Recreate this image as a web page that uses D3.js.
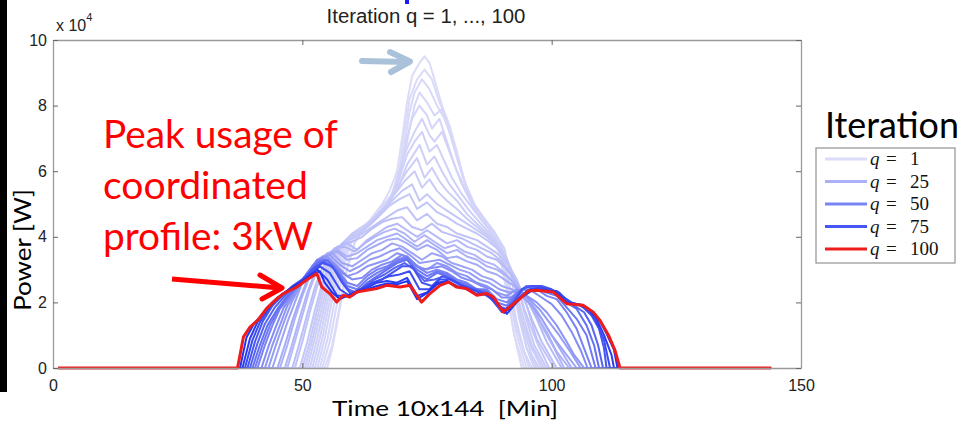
<!DOCTYPE html>
<html>
<head>
<meta charset="utf-8">
<script src="https://cdn.jsdelivr.net/npm/d3@7"></script>
<style>
  body { margin: 0; background: #fff; overflow: hidden; }
  svg { display: block; }
</style>
</head>
<body>
<svg id="chart" width="961" height="426"></svg>
<script>
// tick values (power is shown in units of 10^4 W)
const xTicks = [0, 50, 100, 150];
const yTicks = [0, 2, 4, 6, 8, 10];

// iteration number of each drawn profile
const iterations = [1, 2, 3, 4, 5, 6, 7, 8, 9, 10, 12, 13, 15, 17, 20, 22, 25, 28, 32, 36, 40, 45, 50, 55, 60, 67, 75, 80, 88, 94, 100];

// power profiles [time step, W]
const q1 = [[1,0],[55,0],[56,6000],[57.5,18000],[59,30000],[60.5,38000],[62,42000],[64,46000],[66,50000],[67.5,54000],[69,60000],[70,70000],[71,81000],[72,89000],[73.5,93000],[74.5,95000],[75.5,93000],[76.5,88000],[78,80000],[79.5,74000],[81,66000],[82.5,57000],[84,50000],[86,45000],[88,42000],[89.5,36000],[91,24000],[92.5,10000],[94,0],[144,0]];
const q2 = [[1,0],[54.5,0],[56,7000],[57.5,19000],[59,31000],[60.5,38500],[62,42500],[64,45500],[66,49500],[68,53000],[69.5,61000],[70.5,72000],[71.5,82000],[73,88000],[74.5,91000],[76,88000],[77.5,81000],[79,76000],[80.5,68000],[82,59000],[83.5,52000],[85.5,46000],[87.5,42500],[89.5,35000],[91,23000],[92.5,10000],[94.5,0],[144,0]];
const q3 = [[1,0],[54,0],[55.5,8000],[57,20000],[58.5,32000],[60,39000],[62,43000],[64,45000],[66,49000],[68,52000],[69.5,58000],[70.5,68000],[71.5,78000],[72.5,84000],[74,88000],[75.5,85000],[77,80000],[78.5,76000],[80,70000],[81.5,62000],[83,55000],[84.5,49000],[86.5,45000],[88.5,41000],[90,34000],[91.5,22000],[93,10000],[95,0],[144,0]];
const q4 = [[1,0],[53.5,0],[55,8500],[56.5,20500],[58,31500],[59.5,38500],[61.5,42500],[63.5,44500],[65.5,48000],[67.5,51000],[69,56000],[70.5,65000],[71.5,73000],[72.5,80000],[73.5,84000],[75,81000],[76.5,77000],[78,79000],[79.5,72000],[81,64000],[82.5,57000],[84.5,50000],[86.5,45500],[88.5,41500],[90,35000],[91.5,24000],[93,12000],[95.5,0],[144,0]];
const q5 = [[1,0],[53,0],[54.5,9000],[56,21000],[57.5,31000],[59,38000],[61,42000],[63,44000],[65,47000],[67,50000],[68.5,55000],[70,63000],[71,70000],[72,76000],[73.5,80000],[75,77000],[76,73000],[77.5,76000],[79,69000],[80.5,62000],[82,56000],[84,50000],[86,46000],[88,42000],[90,36000],[91.5,26000],[93,14000],[94.5,5000],[96,0],[144,0]];
const q6 = [[1,0],[52.5,0],[54,9000],[55.5,20500],[57,30500],[58.5,37500],[60.5,41500],[62.5,43500],[64.5,46000],[66.5,49000],[68,53000],[69.5,60000],[71,67000],[72.5,72000],[74,76000],[75.5,71000],[76.5,69000],[78,72000],[79.5,66000],[81,60000],[82.5,55000],[84.5,49500],[86.5,45500],[88.5,41500],[90.5,36500],[92,27000],[93.5,15000],[95,6000],[96.5,0],[144,0]];
const q7 = [[1,0],[52,0],[53.5,9000],[55,20000],[56.5,30000],[58,37000],[60,41000],[62,43000],[64,45000],[66,48000],[68,52000],[69.5,58000],[71,65000],[72.5,69000],[74,72000],[75.5,66000],[77,68000],[78.5,63000],[80,58000],[82,53000],[84,49000],[86,45000],[88,41000],[90,37000],[92,28000],[93.5,16000],[95,6000],[97,0],[144,0]];
const q8 = [[1,0],[51.5,0],[53,9000],[54.5,19500],[56,29000],[57.5,36000],[59.5,40000],[61.5,42500],[63.5,44000],[65.5,47000],[67.5,51000],[69.5,56000],[71,62000],[73.5,68000],[75,62000],[76.5,64500],[78,60000],[79.5,56000],[81.5,52000],[83.5,48000],[85.5,44500],[87.5,41000],[89.5,37500],[91.5,30000],[93,20000],[94.5,11000],[96,4000],[97.5,0],[144,0]];
const q9 = [[1,0],[51,0],[52.5,9000],[54,19000],[55.5,28000],[57,35000],[59,39000],[61,42000],[63,43000],[65,46000],[67,50000],[69,55000],[71,60000],[73,64000],[74.5,58000],[76,61000],[77.5,57000],[79,54000],[81,51000],[83,47000],[85,44000],[87,41000],[89,38000],[91,33000],[92.5,25000],[94,15000],[96,6000],[98,0],[144,0]];
const q10 = [[1,0],[50.5,0],[52,8500],[53.5,18500],[55,27500],[56.5,34000],[58.5,38500],[60.5,41500],[62.5,42500],[64.5,45500],[66.5,49000],[68.5,53000],[70.5,57000],[72.5,60000],[74,55000],[75.5,57500],[77,54000],[79,51000],[81,48500],[83,45500],[85,43000],[87,40500],[89,37500],[91,33500],[92.5,26000],[94,17000],[96,7000],[98.5,0],[144,0]];
const q12 = [[1,0],[50,0],[51.5,8000],[53,18000],[54.5,27000],[56,33000],[58,38000],[60,41000],[62,42000],[64,45000],[66,48000],[68,51000],[70,54000],[72,56000],[73.5,51000],[75,53000],[77,50000],[79,48000],[81,46000],[83,44000],[85,42000],[87,40000],[89,37000],[91,33000],[93,26000],[94.5,17000],[96.5,7000],[99,0],[144,0]];
const q13 = [[1,0],[49.5,0],[51,8000],[52.5,17500],[54,26000],[55.5,32500],[57.5,37000],[59.5,40000],[61.5,41000],[63.5,43500],[65.5,46500],[67.5,49500],[69.5,51500],[71.5,53000],[73,48500],[75,50500],[77,47500],[79,46000],[81,44000],[83,42500],[85,41000],[87,39000],[89,36500],[91,33000],[93,26500],[94.5,18000],[97,8000],[99.5,0],[144,0]];
const q15 = [[1,0],[48.5,0],[50,8000],[51.5,17000],[53,25000],[55,32000],[57,36000],[59,39000],[61,40000],[63,42000],[65,44000],[67,46000],[69,48000],[71,49000],[73,45000],[75,47000],[77,44000],[79,43000],[81,41000],[83,40000],[85,39000],[87,37000],[89,35000],[91,32000],[93,27000],[95,19000],[97,9000],[100.5,0],[144,0]];
const q17 = [[1,0],[48,0],[49.5,8000],[51,16500],[52.5,24500],[54,30500],[56,35000],[58,38000],[60,38500],[62,40000],[64,42500],[66,44500],[68,45500],[70,46000],[72,43000],[74,42000],[76,44000],[78,41500],[80,40500],[82,39500],[84,38000],[86,36500],[88,35000],[90,32500],[92,28500],[94,23000],[96,15000],[98,8000],[101,0],[144,0]];
const q20 = [[1,0],[47,0],[48.5,8000],[50,16000],[51.5,24000],[53,30000],[55,34000],[57,37000],[59,38000],[61,36000],[63,39000],[65,41000],[67,43000],[69,44000],[71,42000],[73,40000],[75,42000],[77,40000],[79,38000],[81,39000],[83,37000],[85,36000],[87,34000],[89,33000],[91,30000],[93,26000],[95,21000],[97,15000],[99,8000],[102,0],[144,0]];
const q22 = [[1,0],[46.5,0],[48,7500],[49.5,15500],[51,23000],[52.5,29000],[54.5,33500],[56.5,36500],[58.5,37000],[60.5,35500],[62.5,38000],[64.5,40000],[66.5,41500],[68.5,42500],[70.5,41000],[72.5,38500],[74.5,40500],[76.5,38500],[78.5,36500],[80.5,37500],[82.5,35500],[84.5,34500],[86.5,32500],[88.5,31500],[90.5,29000],[92.5,26000],[94.5,22000],[96.5,17500],[98.5,11500],[100.5,6000],[102.5,0],[144,0]];
const q25 = [[1,0],[45.5,0],[47,7000],[48.5,15000],[50,22000],[51.5,28000],[53,32000],[55,35000],[57,36000],[59,34000],[61,35000],[63,37000],[65,39000],[67,40000],[69,41000],[71,39000],[73,37000],[75,39000],[77,37000],[79,35000],[81,36000],[83,34000],[85,33000],[87,31000],[89,30000],[91,28000],[93,25000],[95,21000],[97,16000],[99,11000],[101,5000],[103.5,0],[144,0]];
const q28 = [[1,0],[45,0],[46.5,7000],[48,14500],[49.5,21000],[51,27000],[53,31500],[55,34500],[57,35500],[59,33000],[61,33500],[63,36000],[65,37500],[67,39000],[69,39500],[71,38000],[73,36000],[75,37500],[77,36000],[79,33500],[81,34000],[83,32500],[85,31500],[87,29500],[89,28500],[91,26500],[93,24500],[95,21500],[97,17500],[99,12500],[101,7500],[104,0],[144,0]];
const q32 = [[1,0],[44,0],[45.5,7000],[47,14000],[48.5,20000],[50,26000],[52,31000],[54,34000],[56,35000],[58,32000],[60,31000],[62,33000],[64,35000],[66,36000],[68,38000],[70,37000],[72,35000],[74,33000],[76,35000],[78,34000],[80,32000],[82,31000],[84,30000],[86,28000],[88,27000],[90,25000],[92,24000],[94,22000],[96,19000],[98,15000],[100,10000],[102.5,5000],[105,0],[144,0]];
const q36 = [[1,0],[43.2,0],[44.7,7000],[46.2,13500],[47.7,19500],[49.5,25000],[51.5,30000],[53.5,33500],[55.5,34500],[57.5,31500],[59.5,29500],[61.5,31000],[63.5,33000],[65.5,34000],[67.5,35500],[69.5,36500],[71.5,34500],[73.5,32000],[75.5,32500],[77.5,33000],[79.5,31500],[81.5,30000],[83.5,29000],[85.5,27000],[87.5,26000],[89.5,24000],[91.5,23000],[93.5,23500],[95.5,21000],[97.5,18000],[99.5,14000],[101.5,10000],[103.5,5500],[105.8,0],[144,0]];
const q40 = [[1,0],[42.5,0],[44,7000],[45.5,13000],[47,19000],[49,24000],[51,29000],[53,33000],[55,34000],[57,31000],[59,28000],[61,29000],[63,31000],[65,32000],[67,33000],[69,35000],[71,34000],[73,31000],[75,30000],[77,32000],[79,31000],[81,29000],[83,28000],[85,26000],[87,25000],[89,23000],[91,22000],[93,24000],[95,22000],[97,20000],[99,17000],[101,13000],[103,8000],[104.5,4000],[106.5,0],[144,0]];
const q45 = [[1,0],[41.8,0],[43.3,7000],[44.8,13000],[46.3,18500],[48.3,23000],[50.3,27500],[52.3,31500],[54,33500],[56,32000],[58,29000],[60,27000],[62,27500],[64,30000],[66,31500],[68,32500],[70,34500],[72,32500],[74,30000],[76,30500],[78,31000],[80,29500],[82,27500],[84,26500],[86,25000],[88,24000],[90,21500],[92,21500],[94,24000],[96,23500],[98,21500],[100,19500],[102,16000],[104,11000],[105.8,5500],[107.2,0],[144,0]];
const q50 = [[1,0],[41,0],[42.5,7000],[44,13000],[45.5,18000],[47.5,22000],[49.5,26000],[51.5,30000],[53,33000],[55,33000],[57,30000],[59,26000],[61,25000],[63,28000],[65,30000],[67,31000],[69,33000],[71,34000],[73,31000],[75,29000],[77,30000],[79,29000],[81,27000],[83,26000],[85,24000],[87,24000],[89,21000],[91,20000],[93,23000],[95,25000],[97,24000],[99,22000],[101,21000],[103,17000],[105,12000],[106.5,6000],[108,0],[144,0]];
const q55 = [[1,0],[40.5,0],[42,7000],[43.5,13000],[45.3,18000],[47.3,22000],[49.3,25500],[51.3,29000],[53,32500],[55,33000],[57,29500],[59,25000],[61,24000],[63,27000],[65,29000],[67,30500],[69,32500],[71,33500],[73,30000],[75,28000],[77,29500],[79,28500],[81,26500],[83,25500],[85,24000],[87,23500],[89,20000],[91,19000],[93,22500],[95,25000],[97,24500],[99,23000],[101,22000],[103,18500],[105,15000],[107,10000],[108.8,0],[144,0]];
const q60 = [[1,0],[40,0],[41.5,7000],[43,13000],[45,18000],[47,22000],[49,25000],[51,28000],[53,32000],[55,33000],[57,29000],[59,24000],[61,23000],[63,26000],[65,28000],[67,30000],[69,32000],[71,33000],[73,29000],[75,27000],[77,29000],[79,28000],[81,26000],[83,25000],[85,24000],[87,23000],[89,19000],[91,18000],[93,22000],[95,25000],[97,25000],[99,24000],[101,23000],[103,20000],[105,18000],[107,13000],[108.5,7000],[109.5,0],[144,0]];
const q67 = [[1,0],[39.5,0],[41,7500],[42.5,13500],[44.5,18500],[46.5,22000],[48.5,25000],[50.5,27500],[52.5,31000],[54.5,32500],[56.5,30000],[58.5,25000],[60.5,22500],[62.5,25000],[64.5,27000],[66.5,28500],[68.5,30500],[70.5,32000],[72.5,30000],[74.5,26500],[76.5,27000],[78.5,28000],[80.5,26500],[82.5,25000],[84.5,24000],[86.5,23000],[88.5,20000],[90.5,17500],[92.5,20500],[94.5,24500],[96.5,25000],[98.5,24500],[100.5,23500],[102.5,21000],[104.5,19000],[106.5,17000],[108,13000],[109.3,7000],[110.3,0],[144,0]];
const q75 = [[1,0],[39,0],[40.5,8000],[42,14000],[44,19000],[46,22000],[48,25000],[50,27000],[52,30000],[54,32000],[56,31000],[58,26000],[60,22000],[62,24000],[64,26000],[66,27000],[68,29000],[70,31000],[72,31000],[74,26000],[76,25000],[78,28000],[80,27000],[82,25000],[84,24000],[86,23000],[88,21000],[90,17000],[92,19000],[94,24000],[96,25000],[98,25000],[100,24000],[102,22000],[104,20000],[106,19000],[108,16000],[109.5,12000],[110.5,6000],[111,0],[144,0]];
const q80 = [[1,0],[38.5,0],[40,8500],[41.5,14000],[43.5,18500],[45.5,21800],[47.5,24200],[49.5,26200],[51.5,28500],[53.5,31000],[55.5,29000],[57.5,24000],[59.5,22000],[61.5,24000],[63.5,25500],[65.5,26800],[67.5,28000],[69.5,28500],[71.5,29500],[73.5,24000],[75.5,24000],[77.5,27000],[79.5,27000],[81.5,25500],[83.5,24200],[85.5,23000],[87.5,22000],[89.5,18500],[91.5,17500],[93.5,21500],[95.5,24000],[97.5,24500],[99.5,24000],[101.5,23000],[103.5,20000],[105.5,19200],[107.5,17500],[109,14000],[110.5,8500],[111.7,0],[144,0]];
const q88 = [[1,0],[38,0],[39.5,9000],[41,14000],[43,18000],[45,21500],[47,23500],[49,25500],[51,27500],[53,30000],[55,27000],[57,22000],[59,22000],[61,23500],[63,24500],[65,26000],[67,26500],[69,26000],[71,27500],[73,22000],[75,23000],[77,26000],[79,26500],[81,25000],[83,24000],[85,22500],[87,22500],[89,20000],[91,16500],[93,20000],[95,23500],[97,24000],[99,23500],[101,23500],[103,20000],[105,19500],[107,18500],[109,15000],[110.5,10000],[112,4000],[112.5,0],[144,0]];
const q94 = [[1,0],[37.5,0],[38.8,9300],[40.3,13500],[42,16500],[44,20000],[46,22500],[48,24500],[50,26500],[52,28500],[53.5,29500],[54.5,26000],[56,23000],[57.5,21000],[59,22000],[61,23500],[63,24000],[65,25000],[67,25800],[69,25500],[71,26500],[73,21000],[75,22800],[77,25500],[79,26500],[81,24800],[83,24200],[85,22300],[87,22600],[88.5,21000],[90.5,16800],[92,19000],[94,21500],[96,23600],[98,23800],[100.5,23300],[103,19800],[106,19300],[108,17300],[109.5,14800],[111,10500],[112.5,5500],[113.2,0],[144,0]];
const q100 = [[1,0],[37,0],[38.2,9500],[39.5,12500],[41.2,14800],[42.8,18100],[44.5,20600],[46.2,22700],[48.9,24700],[50.9,26900],[52.9,28800],[53.9,24700],[55.5,22700],[56.9,20100],[58.2,22200],[59.5,21600],[60.9,23200],[62.9,23700],[64.9,24200],[66.9,25200],[69.6,24700],[71.6,25200],[73.9,20100],[75.6,22700],[77.6,25200],[79.3,26200],[80.9,24700],[82.9,24200],[85,22200],[87,22700],[88.3,21600],[90.3,17100],[91.6,18600],[93.6,21100],[95.3,23500],[97,23700],[100.3,23200],[103,19600],[106.3,19100],[108.3,17100],[109.7,14500],[111.4,10000],[112.7,5400],[113.7,0],[144,0]];

const profiles = [q1, q2, q3, q4, q5, q6, q7, q8, q9, q10, q12, q13, q15, q17, q20, q22, q25, q28, q32, q36, q40, q45, q50, q55, q60, q67, q75, q80, q88, q94, q100];

const legendIterations = [1, 25, 50, 75, 100];
const noteLines = ["Peak usage of", "coordinated", "profile: 3kW"];

const svg = d3.select("#chart");
const margin = { left: 53, right: 160, top: 40, bottom: 58 };
const W = 961, H = 426;

const x = d3.scaleLinear().domain([0, 150]).range([margin.left, W - margin.right]);
const y = d3.scaleLinear().domain([0, 100000]).range([H - margin.bottom, margin.top]);

const lightBlue = "#dedef9", darkBlue = "#1428ef", red = "#ee1c1c";
function colorFor(q) {
    if (q === 100) return red;
    return d3.interpolateRgb(lightBlue, darkBlue)(q / 100);
}

// fit text to a given width by changing its font size
function fitWidth(sel, w) {
    const len = sel.node().getComputedTextLength();
    const fs = parseFloat(sel.attr("font-size"));
    sel.attr("font-size", fs * w / len);
}

// left black strip from the slide
svg.append("rect").attr("x", 0).attr("y", 0).attr("width", 7).attr("height", 392).attr("fill", "#000");
svg.append("rect").attr("x", 405).attr("y", 0).attr("width", 4).attr("height", 4).attr("fill", "#1a1aff");

// curves
const line = d3.line().x(d => x(d[0])).y(d => y(d[1]));
svg.append("g").selectAll("path")
    .data(profiles)
    .enter().append("path")
    .attr("d", line)
    .attr("fill", "none")
    .attr("stroke", (d, i) => colorFor(iterations[i]))
    .attr("stroke-width", (d, i) => iterations[i] === 100 ? 3 : 2)
    .attr("stroke-linejoin", "round");

// axes box
const axisFont = "Liberation Sans, Arial, Helvetica, sans-serif";
function styleAxis(g) {
    g.select(".domain").attr("stroke", "#9a9a9a").attr("stroke-width", 1.3);
    g.selectAll(".tick line").attr("stroke", "#666");
    g.selectAll(".tick text").attr("fill", "#222").attr("font-size", 16).attr("font-family", axisFont);
}
svg.append("g").attr("transform", `translate(0,${y(0)})`)
    .call(d3.axisBottom(x).tickValues(xTicks).tickSize(-5).tickSizeOuter(0).tickPadding(12))
    .call(styleAxis);
svg.append("g").attr("transform", `translate(0,${y(100000)})`)
    .call(d3.axisTop(x).tickValues(xTicks).tickSize(-5).tickSizeOuter(0).tickFormat(""))
    .call(styleAxis);
svg.append("g").attr("transform", `translate(${x(0)},0)`)
    .call(d3.axisLeft(y).tickValues(yTicks.map(v => v * 10000)).tickSize(-5).tickSizeOuter(0).tickPadding(6).tickFormat(v => v / 10000))
    .call(styleAxis);
svg.append("g").attr("transform", `translate(${x(150)},0)`)
    .call(d3.axisRight(y).tickValues(yTicks.map(v => v * 10000)).tickSize(-5).tickSizeOuter(0).tickFormat(""))
    .call(styleAxis);

// exponent label
const expo = svg.append("text").attr("x", 56).attr("y", 31)
    .attr("font-family", axisFont).attr("font-size", 16).attr("fill", "#222");
expo.append("tspan").text("x 10");
expo.append("tspan").attr("dy", -10).attr("font-size", 11).text("4");

// title
const title = svg.append("text").attr("x", 426).attr("y", 23).attr("text-anchor", "middle")
    .attr("font-family", axisFont).attr("font-size", 16).attr("fill", "#222")
    .text("Iteration q = 1, ..., 100");
fitWidth(title, 199);

// axis titles (slide text)
const slideFont = "Lato, 'Open Sans', sans-serif";
svg.append("text").attr("x", 445).attr("y", 416).attr("text-anchor", "middle")
    .attr("font-family", slideFont).attr("font-size", 22).attr("fill", "#000")
    .attr("textLength", 226).attr("lengthAdjust", "spacingAndGlyphs")
    .attr("xml:space", "preserve").text("Time 10x144  [Min]");
svg.append("text").attr("transform", "translate(31,250) rotate(-90)").attr("text-anchor", "middle")
    .attr("font-family", slideFont).attr("font-size", 23).attr("fill", "#000")
    .attr("textLength", 122).attr("lengthAdjust", "spacingAndGlyphs")
    .text("Power [W]");

// annotation
const note = svg.append("g").attr("font-family", slideFont).attr("fill", "#ff0000");
const noteWidths = [235, 205, 210];
noteLines.forEach((t, i) => {
    const tx = note.append("text").attr("x", 103).attr("y", 148 + i * 51)
        .attr("font-size", 34).text(t);
    fitWidth(tx, noteWidths[i]);
});
// red arrow
svg.append("line").attr("x1", 172).attr("y1", 279).attr("x2", 280).attr("y2", 288)
    .attr("stroke", "#ff0000").attr("stroke-width", 5);
svg.append("path").attr("d", "M260,275 L282,288 L262,299")
    .attr("fill", "none").attr("stroke", "#ff0000").attr("stroke-width", 5)
    .attr("stroke-linecap", "round").attr("stroke-linejoin", "round");
// grey-blue arrow at the first peak
svg.append("line").attr("x1", 362).attr("y1", 61).attr("x2", 407).attr("y2", 62)
    .attr("stroke", "#a9c2da").attr("stroke-width", 6).attr("stroke-linecap", "round");
svg.append("path").attr("d", "M390,52 L410,61.5 L391,72")
    .attr("fill", "none").attr("stroke", "#a9c2da").attr("stroke-width", 6)
    .attr("stroke-linecap", "round").attr("stroke-linejoin", "round");

// legend
const legTitle = svg.append("text").attr("x", 825).attr("y", 138).attr("font-family", slideFont)
    .attr("font-size", 40).attr("fill", "#000").text("Iteration");
fitWidth(legTitle, 134);
const lg = svg.append("g");
lg.append("rect").attr("x", 816).attr("y", 148).attr("width", 139).attr("height", 115)
    .attr("fill", "#fff").attr("stroke", "#9a9a9a").attr("stroke-width", 1.3);
const legendRow = d3.scaleLinear().domain([0, legendIterations.length - 1]).range([159, 249]);
legendIterations.forEach((q, i) => {
    const ly = legendRow(i);
    lg.append("line").attr("x1", 825).attr("x2", 867).attr("y1", ly).attr("y2", ly)
        .attr("stroke", colorFor(q)).attr("stroke-width", 3);
    const t = lg.append("text").attr("y", ly + 6).attr("font-family", "'Liberation Serif', 'DejaVu Serif', serif")
        .attr("font-size", 19).attr("fill", "#111");
    t.append("tspan").attr("x", 870).attr("font-style", "italic").text("q");
    t.append("tspan").attr("x", 886).text("=");
    t.append("tspan").attr("x", 910).text(q);
});
</script>
</body>
</html>
